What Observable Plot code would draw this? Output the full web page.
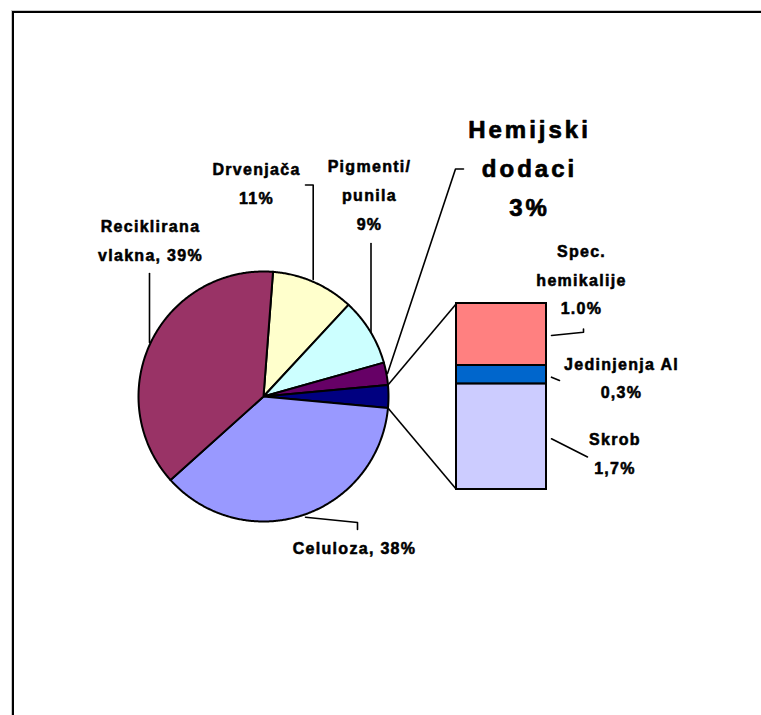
<!DOCTYPE html>
<html><head><meta charset="utf-8">
<script src="https://cdn.jsdelivr.net/npm/d3@7"></script>
<script src="https://cdn.jsdelivr.net/npm/@observablehq/plot@0.6"></script>
<style>
html,body{margin:0;padding:0;background:#fff;overflow:hidden;width:761px;height:715px;}
#frame{position:absolute;left:12px;top:11px;width:760px;height:720px;border-top:2px solid #000;border-left:2px solid #000;box-shadow:-1px -1px 0 #c8c8c8;}
#chart{position:absolute;left:0;top:0;}
#chart text{letter-spacing:1.3px;}
#chart g[font-size="24"] text{letter-spacing:3px;}
</style></head><body>
<div id="frame"></div><div id="chart"></div>
<script>
// ---- data ----
const pieCategories = ["Drvenjača", "Pigmenti/punila", "Hemijski dodaci", "Ostalo", "Celuloza", "Reciklirana vlakna"];
const pieValues = [11, 9, 3, 3, 38, 39];
const pieLabels = ["Drvenjača\n11%", "Pigmenti/\npunila\n9%", "Hemijski\ndodaci\n3%", "", "Celuloza, 38%", "Reciklirana\nvlakna, 39%"];
const barCategories = ["Spec. hemikalije", "Jedinjenja Al", "Skrob"];
const barValues = [1.0, 0.3, 1.7];
const barLabels = ["Spec.\nhemikalije\n1.0%", "Jedinjenja Al\n0,3%", "Skrob\n1,7%"];

// ---- styles ----
const colorDomain = [...pieCategories, ...barCategories];
const colorRange = ["#FFFFCC", "#CCFFFF", "#660066", "#000080", "#9999FF", "#993366", "#FF8080", "#0066CC", "#CCCCFF"];

// ---- layout ----
const L = {cx: 263, cy: 396, r: 125, barX1: 456, barX2: 546, barTop: 303, barH: 186};
const labelPos = {
  "Drvenjača": {x: 256, base: 174.5, fs: 16, lh: 29.5},
  "Pigmenti/punila": {x: 369, base: 172, fs: 16, lh: 29},
  "Hemijski dodaci": {x: 529, base: 137.5, fs: 24, lh: 39.2},
  "Celuloza": {x: 354, base: 554, fs: 16, lh: 29},
  "Reciklirana vlakna": {x: 150, base: 231.5, fs: 16, lh: 29},
  "Spec. hemikalije": {x: 581, base: 257, fs: 16, lh: 28.4},
  "Jedinjenja Al": {x: 621, base: 369.5, fs: 16, lh: 28.5},
  "Skrob": {x: 614.5, base: 445, fs: 16, lh: 28.5}
};
const leaders = {
  "Reciklirana vlakna": [[149, 273], [149, 342]],
  "Drvenjača": [[305, 184.5], [312.7, 184.5], [312.7, 279]],
  "Pigmenti/punila": [[370.5, 243], [370.5, 332]],
  "Hemijski dodaci": [[463, 168.5], [455, 168.5], [387, 373]],
  "Celuloza": [[305, 516.7], [357, 522], [357, 529]],
  "Spec. hemikalije": [[551, 335], [583, 331.7], [583, 328.5]],
  "Jedinjenja Al": [[551, 376.7], [559, 380]],
  "Skrob": [[551, 438.3], [587, 456.5]]
};

// ---- derived geometry ----
const total = d3.sum(pieValues);
const otherIdx = pieCategories.indexOf("Ostalo");
const before = d3.sum(pieValues.slice(0, otherIdx)) + pieValues[otherIdx] / 2;
const startDeg = 90 - before / total * 360;
const pt = (deg) => [L.cx + L.r * Math.sin(deg * Math.PI / 180), L.cy - L.r * Math.cos(deg * Math.PI / 180)];

const slicePts = [];
const sliceAngles = [];
let acc = startDeg;
pieCategories.forEach((cat, i) => {
  const a0 = acc, a1 = acc + pieValues[i] / total * 360;
  sliceAngles.push([a0, a1]);
  slicePts.push({cat, x: L.cx, y: L.cy});
  const n = Math.max(2, Math.ceil((a1 - a0) / 0.5));
  for (let k = 0; k <= n; k++) {
    const [x, y] = pt(a0 + (a1 - a0) * k / n);
    slicePts.push({cat, x, y});
  }
  slicePts.push({cat, x: L.cx, y: L.cy});
  acc = a1;
});

const barTotal = d3.sum(barValues);
let cum = 0;
const barRows = barCategories.map((cat, i) => {
  const y1 = L.barTop + cum / barTotal * L.barH;
  cum += barValues[i];
  const y2 = L.barTop + cum / barTotal * L.barH;
  return {cat, y1, y2};
});

const [oa0, oa1] = sliceAngles[otherIdx];
const connectors = [
  {p: pt(oa0), q: [L.barX1, L.barTop]},
  {p: pt(oa1), q: [L.barX1, L.barTop + L.barH]}
];

const leaderRows = [];
Object.entries(leaders).forEach(([id, pts]) => pts.forEach(([x, y]) => leaderRows.push({id, x, y})));

const labelRows = [];
pieCategories.forEach((c, i) => { if (pieLabels[i]) labelRows.push({c, text: pieLabels[i]}); });
barCategories.forEach((c, i) => labelRows.push({c, text: barLabels[i]}));
// Plot offsets the first line by 0.71 * lineHeight (em) for lineAnchor "top"
const textMarks = labelRows.map(row => {
  const p = labelPos[row.c];
  return Plot.text([row], {
    x: () => p.x,
    y: () => p.base - 0.71 * p.lh,
    text: "text",
    textAnchor: "middle",
    lineAnchor: "top",
    lineHeight: p.lh / p.fs,
    fontSize: p.fs,
    fontWeight: "bold",
    fill: "#000",
    stroke: "#000",
    strokeWidth: p.fs > 20 ? 0.7 : 0.55
  });
});

const chart = Plot.plot({
  width: 761, height: 715,
  margin: 0,
  x: {domain: [0, 761], range: [0, 761], axis: null},
  y: {domain: [0, 715], range: [0, 715], axis: null},
  color: {domain: colorDomain, range: colorRange},
  style: {fontFamily: "'Liberation Sans', Arial, sans-serif", background: "transparent", overflow: "visible"},
  marks: [
    Plot.line(slicePts, {x: "x", y: "y", z: "cat", fill: "cat", stroke: "#000", strokeWidth: 2, strokeLinejoin: "round"}),
    Plot.rect(barRows, {x1: () => L.barX1, x2: () => L.barX2, y1: "y1", y2: "y2", fill: "cat", stroke: "#000", strokeWidth: 2}),
    Plot.link(connectors, {x1: d => d.p[0], y1: d => d.p[1], x2: d => d.q[0], y2: d => d.q[1], stroke: "#000", strokeWidth: 1.6}),
    Plot.line(leaderRows, {x: "x", y: "y", z: "id", stroke: "#000", strokeWidth: 1.6}),
    ...textMarks
  ]
});
document.getElementById("chart").appendChild(chart);
</script>
</body></html>
